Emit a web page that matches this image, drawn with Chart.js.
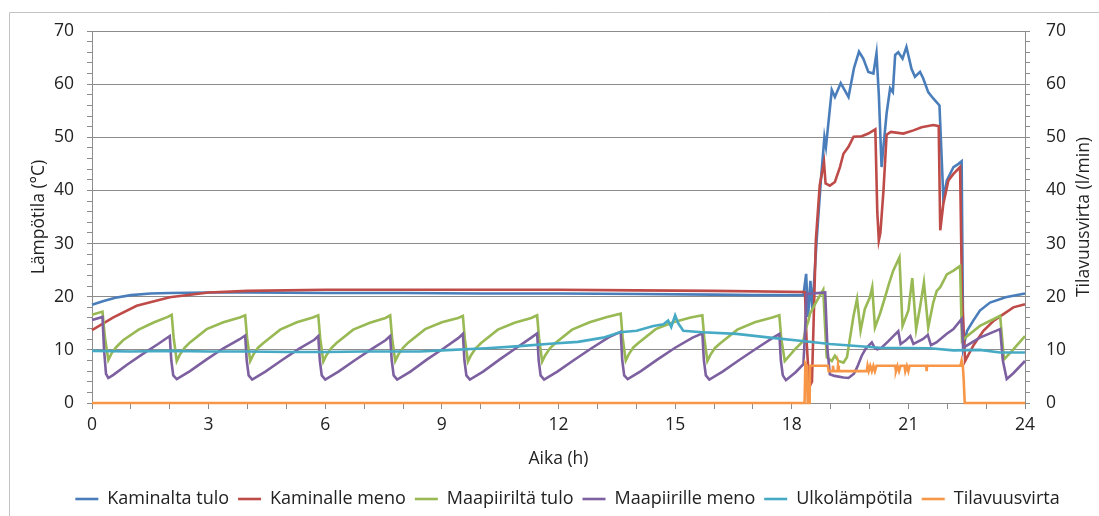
<!DOCTYPE html>
<html>
<head>
<meta charset="utf-8">
<script src="https://cdn.jsdelivr.net/npm/chart.js@4.4.1/dist/chart.umd.min.js"></script>
<style>
  html, body { margin: 0; padding: 0; background: #fff; }
  #wrap { width: 1099px; height: 516px; }
</style>
</head>
<body>
<div id="wrap"><canvas id="chart" width="1099" height="516"></canvas></div>
<script>
// sarjojen nimet ja arvot [aika (h), arvo]
var seriesNames = ['Kaminalta tulo', 'Kaminalle meno', 'Maapiiriltä tulo', 'Maapiirille meno', 'Ulkolämpötila', 'Tilavuusvirta'];
var xTickLabels = [0, 3, 6, 9, 12, 15, 18, 21, 24];
var yTickLabels = [0, 10, 20, 30, 40, 50, 60, 70];

var kaminaltaTulo = [
  [0,18.5],[0.3,19.2],[0.6,19.8],[1,20.3],[1.5,20.6],[2,20.7],[3,20.8],[4,20.8],[6,20.7],[8,20.7],
  [10,20.6],[12,20.6],[14,20.5],[16,20.4],[17,20.3],[18.3,20.3],[18.37,24.3],[18.42,16.2],[18.48,23],
  [18.53,17.5],[18.64,30.6],[18.75,42],[18.84,50],[18.88,48.2],[19.03,58.9],[19.11,57.6],[19.26,60.2],
  [19.46,57.6],[19.6,63],[19.73,66.1],[19.84,64.8],[19.97,62.3],[20.1,62],[20.18,65.8],[20.24,58],
  [20.31,44.4],[20.44,54.5],[20.53,59.2],[20.6,58.5],[20.66,65.5],[20.74,66],[20.85,64.8],[20.95,67],
  [21.08,62.9],[21.17,61.4],[21.3,62.3],[21.38,61.1],[21.51,58.5],[21.64,57.3],[21.8,56],[21.9,38.4],
  [21.99,41.9],[22.16,44.4],[22.29,45],[22.37,45.5],[22.41,10.4],[22.51,13.6],[22.67,15.5],[22.84,17.4],
  [23.1,18.9],[23.5,19.9],[24,20.6]
];
var kaminalleMeno = [
  [0,13.7],[0.55,16.1],[1.15,18.3],[2,19.9],[3,20.8],[4,21.1],[6,21.3],[8,21.3],[10,21.3],[12,21.3],
  [14,21.2],[16,21.1],[18.34,20.9],[18.38,12],[18.45,3],[18.52,4],[18.62,30.6],[18.72,41],[18.83,45.3],
  [18.87,41.3],[18.98,40.9],[19.11,41.6],[19.24,44.4],[19.33,46.9],[19.46,48.2],[19.59,50.1],[19.8,50.2],
  [19.97,50.7],[20.15,51.5],[20.2,36],[20.24,30.6],[20.28,32],[20.36,40],[20.44,50.5],[20.55,51],
  [20.87,50.7],[21.13,51.3],[21.34,51.9],[21.64,52.3],[21.78,52.1],[21.82,32.5],[21.9,37.5],[22.03,41.9],
  [22.16,43.1],[22.33,44.4],[22.38,20],[22.46,7.9],[22.67,10.8],[22.93,13.6],[23.2,15.5],[23.7,18],[24,18.6]
];
var maapiiriltaTulo = [
  [0,16.6],[0.27,17.2],[0.33,12.5],[0.42,8.1],[0.5,9.3],[0.62,10.5],[0.8,11.8],[1.2,13.8],[1.6,15.2],[1.95,16.2],[2.05,16.6],
  [2.1,12.3],[2.18,7.9],[2.26,9.1],[2.38,10.4],[2.52,11.4],[2.95,13.9],[3.38,15.2],[3.8,16.1],[3.94,16.5],
  [3.99,12.2],[4.07,7.9],[4.15,9.1],[4.27,10.4],[4.41,11.3],[4.84,13.8],[5.27,15.2],[5.68,16.1],[5.82,16.5],
  [5.87,12.2],[5.95,7.8],[6.03,9.0],[6.15,10.3],[6.29,11.3],[6.72,13.8],[7.15,15.1],[7.55,16.0],[7.67,16.5],
  [7.72,12.2],[7.8,7.9],[7.88,9.1],[8.0,10.4],[8.14,11.4],[8.57,13.9],[9.0,15.2],[9.42,16.0],[9.54,16.4],
  [9.59,12.1],[9.67,7.8],[9.75,9.0],[9.87,10.3],[10.01,11.3],[10.44,13.8],[10.87,15.1],[11.3,16.0],[11.45,16.5],
  [11.5,12.2],[11.58,7.8],[11.66,9.0],[11.78,10.3],[11.92,11.3],[12.35,13.8],[12.8,15.2],[13.25,16.2],[13.6,16.8],
  [13.65,12.3],[13.73,8.0],[13.81,9.2],[13.93,10.5],[14.07,11.4],[14.5,13.9],[14.95,15.2],[15.4,16.1],[15.7,16.5],
  [15.75,12.2],[15.83,7.9],[15.91,9.1],[16.03,10.4],[16.17,11.3],[16.6,13.8],[17.05,15.2],[17.5,16.1],[17.68,16.5],
  [17.73,12.2],[17.82,7.9],[18.08,10.1],[18.3,11.7],[18.36,14],[18.42,15.2],[18.47,16.8],[18.62,18.9],
  [18.81,21.3],[18.86,14],[18.9,8.6],[19.03,7.9],[19.11,8.9],[19.2,7.9],[19.33,7.6],[19.42,8.6],
  [19.59,16.4],[19.68,19.6],[19.77,13.6],[19.88,17.7],[20.01,19.9],[20.07,21.8],[20.14,14.2],[20.27,16.8],
  [20.4,19.9],[20.5,22.4],[20.61,24.9],[20.77,27.4],[20.85,14.5],[21.0,17.4],[21.1,23.5],[21.2,13.9],
  [21.3,18.0],[21.4,22.7],[21.51,14.2],[21.64,18.9],[21.73,21.1],[21.82,21.8],[21.99,24.2],[22.16,24.9],
  [22.33,25.8],[22.38,11.7],[22.46,12.3],[22.84,14.5],[23.2,15.8],[23.36,16.4],[23.46,8.2],[23.7,10.1],[24,12.6]
];
var maapiirilleMeno = [
  [0,15.6],[0.27,16.2],[0.31,10],[0.36,5.5],[0.42,4.7],[0.55,5.3],[0.9,7.2],[1.3,9.2],[1.7,11.1],[2.0,12.6],
  [2.04,8],[2.09,5.2],[2.18,4.5],[2.52,6.0],[2.95,8.2],[3.38,10.3],[3.8,12.0],[3.94,12.7],
  [3.98,8],[4.03,5.2],[4.12,4.4],[4.46,5.9],[4.89,8.1],[5.32,10.2],[5.72,11.9],[5.82,12.6],
  [5.86,8],[5.91,5.2],[6.0,4.4],[6.34,5.9],[6.77,8.1],[7.2,10.2],[7.55,11.8],[7.67,12.6],
  [7.71,8],[7.76,5.2],[7.85,4.4],[8.19,5.9],[8.62,8.2],[9.05,10.3],[9.42,12.2],[9.54,13.0],
  [9.58,8],[9.63,5.2],[9.72,4.4],[10.06,5.9],[10.49,8.2],[10.92,10.4],[11.3,12.3],[11.45,13.1],
  [11.49,8],[11.54,5.2],[11.63,4.4],[11.97,5.9],[12.4,8.1],[12.85,10.3],[13.3,12.4],[13.6,13.4],
  [13.64,8],[13.69,5.2],[13.78,4.5],[14.12,6.0],[14.55,8.2],[15.0,10.4],[15.45,12.3],[15.7,13.1],
  [15.74,8],[15.79,5.2],[15.88,4.4],[16.22,5.9],[16.65,8.1],[17.1,10.3],[17.5,12.2],[17.68,13.0],
  [17.72,8],[17.77,5.2],[17.85,4.3],[18.1,5.8],[18.3,7.3],[18.34,13],[18.38,20.5],[18.86,20.8],
  [18.92,10],[18.98,5.4],[19.1,5.1],[19.33,4.8],[19.46,4.7],[19.6,5.5],[19.68,6.7],[19.8,8.9],
  [19.9,10.2],[20.06,11.4],[20.14,10.3],[20.2,10.1],[20.31,10.4],[20.48,11.6],[20.6,12.5],[20.74,13.5],
  [20.8,11.1],[20.92,11.7],[21.05,12.6],[21.13,11.1],[21.37,12.0],[21.5,12.8],[21.58,10.9],[21.72,11.4],
  [21.98,13.0],[22.16,13.9],[22.37,15.8],[22.41,10.4],[22.84,12.3],[23.36,13.9],[23.43,8],[23.53,4.5],
  [23.7,5.6],[24,7.9]
];
var ulkolampotila = [
  [0,9.8],[1,9.7],[2,9.8],[3,9.7],[4,9.7],[5,9.6],[6,9.6],[7,9.7],[8,9.7],[8.44,9.7],[9,9.9],
  [10.15,10.3],[11,10.7],[11.87,11.2],[12.5,11.5],[13.15,12.3],[13.58,13.3],[14.01,13.6],[14.44,14.5],
  [14.7,14.8],[14.82,15.5],[14.9,14.3],[15.0,16.5],[15.08,15],[15.21,13.6],[15.7,13.3],[16.58,13.0],
  [17.44,12.3],[18.21,11.7],[18.98,11.1],[20.27,10.4],[21.56,10.3],[22.16,9.9],[22.84,10.0],
  [23.36,9.5],[24,9.5]
];
var tilavuusvirta = [
  [0,0],[18.33,0],[18.35,7.5],[18.39,7],[18.41,0],[18.46,0],[18.47,7],[18.93,7],[18.95,6],[19.05,6],
  [19.06,7],[19.08,6],[19.18,6],[19.19,7],[19.21,6],[19.93,6],[19.95,7],[19.98,6],[20.02,7],[20.06,6],
  [20.1,7],[20.14,6],[20.18,7],[20.66,7],[20.68,6],[20.72,7],[20.76,6],[20.8,7],[20.9,7],[20.92,6],
  [20.96,7],[21.0,6],[21.03,7],[21.46,7],[21.47,6],[21.48,7],[22.34,7],[22.37,8],[22.4,7],[22.42,4.8],
  [22.45,0],[24,0]
];

var seriesData = [kaminaltaTulo, kaminalleMeno, maapiiriltaTulo, maapiirilleMeno, ulkolampotila, tilavuusvirta];
var seriesColors = ['#4A7EBB', '#BE4B48', '#98B954', '#7D60A0', '#46AAC5', '#F79646'];

var FONT = '"Open Sans", sans-serif';
var TXT = '#222';
var GRID = '#8c8c8c';

function xy(pairs) {
  return pairs.map(function (p) { return { x: p[0], y: p[1] }; });
}

// kehys, legendan siirto ja oikean akselin otsikko (luetaan alhaalta ylös kuten vasen)
var extras = {
  id: 'extras',
  afterLayout: function (chart) {
    chart.legend.left += 18;
    chart.legend.right += 18;
  },
  beforeDraw: function (chart) {
    var c = chart.ctx;
    c.save();
    c.strokeStyle = '#c3c3c3';
    c.lineWidth = 1;
    c.beginPath();
    c.moveTo(9.5, chart.height);
    c.lineTo(9.5, 12.5);
    c.lineTo(chart.width, 12.5);
    c.stroke();
    c.restore();
  },
  afterDraw: function (chart) {
    var c = chart.ctx, a = chart.chartArea;
    c.save();
    c.translate(chart.scales.y2.right - 5, (a.top + a.bottom) / 2);
    c.rotate(-Math.PI / 2);
    c.font = '17.5px ' + FONT;
    c.fillStyle = TXT;
    c.textAlign = 'center';
    c.textBaseline = 'middle';
    c.fillText('Tilavuusvirta (l/min)', 0, 0);
    c.restore();
  }
};

var datasets = seriesNames.map(function (name, i) {
  return {
    label: name,
    data: xy(seriesData[i]),
    borderColor: seriesColors[i],
    backgroundColor: seriesColors[i],
    borderWidth: 2.6,
    pointRadius: 0,
    tension: 0,
    clip: 4,
    yAxisID: i === 5 ? 'y2' : 'y',
    order: seriesNames.length - i
  };
});

function yLabel(v) { return yTickLabels.indexOf(v) >= 0 ? v : ''; }

new Chart(document.getElementById('chart'), {
  type: 'line',
  data: { datasets: datasets },
  plugins: [extras],
  options: {
    responsive: false,
    animation: false,
    devicePixelRatio: 1,
    layout: { padding: { top: 31, left: 10, right: 10, bottom: -2 } },
    plugins: {
      tooltip: { enabled: false },
      legend: {
        position: 'bottom',
        labels: {
          usePointStyle: true,
          pointStyle: 'line',
          pointStyleWidth: 23,
          padding: 9,
          color: TXT,
          font: { family: FONT, size: 18 },
          sort: function (a, b) { return a.datasetIndex - b.datasetIndex; }
        }
      }
    },
    scales: {
      x: {
        type: 'linear',
        min: 0, max: 24,
        afterFit: function (s) { s.height = 78; },
        ticks: {
          stepSize: 1, autoSkip: false, maxRotation: 0, padding: 6,
          color: TXT, font: { family: FONT, size: 17.5 },
          callback: function (v) { return xTickLabels.indexOf(v) >= 0 ? v : ''; }
        },
        grid: { drawOnChartArea: false, tickLength: 6, tickColor: GRID },
        border: { color: GRID },
        title: { display: true, text: 'Aika (h)', color: TXT, font: { family: FONT, size: 17.5 }, padding: { top: 0, bottom: 11 } }
      },
      y: {
        position: 'left',
        min: 0, max: 70,
        afterFit: function (s) { s.width = 82; },
        ticks: { stepSize: 2, autoSkip: false, padding: 13, color: TXT, font: { family: FONT, size: 17.5 }, callback: yLabel },
        grid: {
          tickLength: 5,
          tickColor: GRID,
          color: function (ctx) { return ctx.tick && ctx.tick.value % 10 === 0 ? GRID : 'rgba(0,0,0,0)'; }
        },
        border: { color: GRID },
        title: { display: true, text: 'Lämpötila (°C)', color: TXT, font: { family: FONT, size: 17.5 }, padding: { top: 19, bottom: 0 } }
      },
      y2: {
        position: 'right',
        min: 0, max: 70,
        afterFit: function (s) { s.width = 64; },
        ticks: { stepSize: 2, autoSkip: false, padding: 16, color: TXT, font: { family: FONT, size: 17.5 }, callback: yLabel },
        grid: { drawOnChartArea: false, tickLength: 5, tickColor: GRID },
        border: { color: GRID }
      }
    }
  }
});
</script>
</body>
</html>
